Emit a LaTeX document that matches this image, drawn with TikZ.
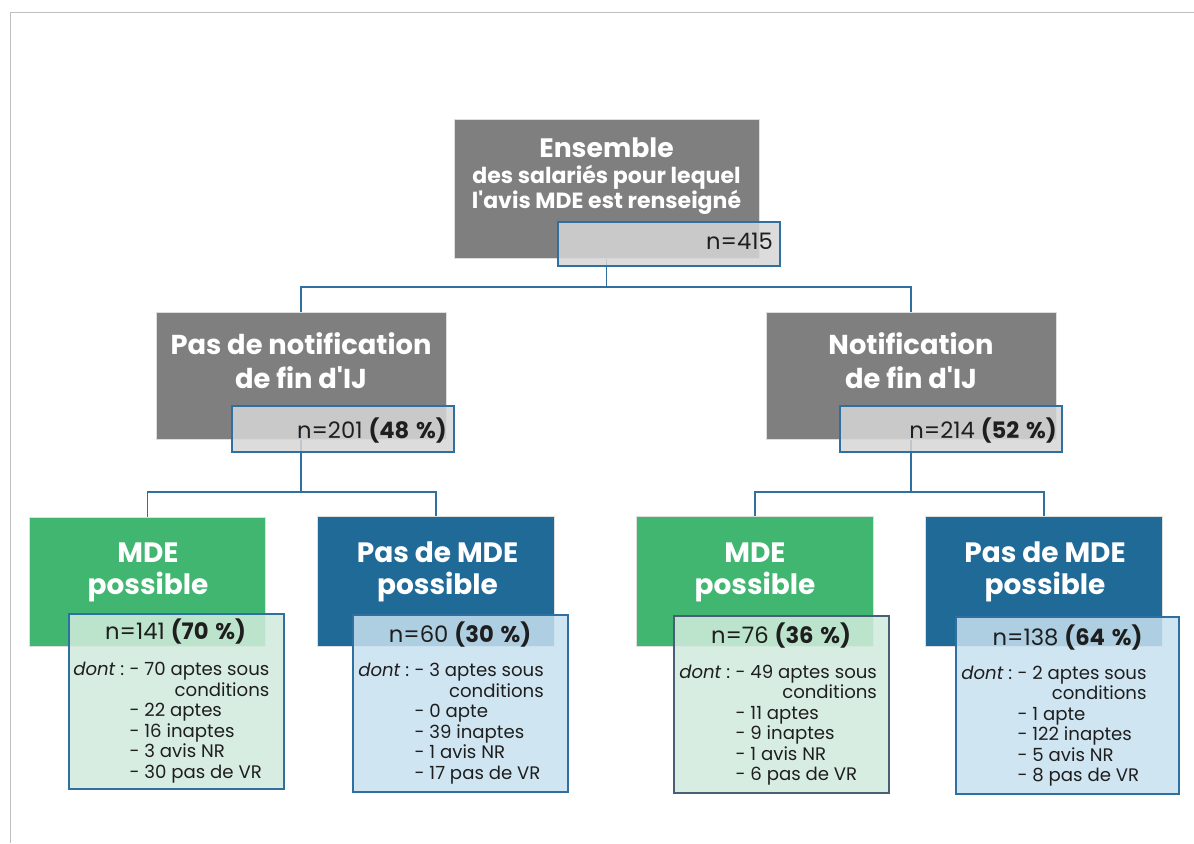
\documentclass[tikz,border=0pt]{standalone}
\usepackage{fontspec}
\setmainfont{Poppins}[Ligatures=TeXOff]
\usetikzlibrary{backgrounds}
\definecolor{framegray}{RGB}{191,191,191}
\definecolor{boxgray}{RGB}{127,127,127}
\definecolor{edgelight}{RGB}{222,222,222}
\definecolor{linkblue}{RGB}{47,112,160}
\definecolor{mdegreen}{RGB}{64,182,112}
\definecolor{mdeblue}{RGB}{32,106,152}
\definecolor{ngray}{RGB}{214,214,214}
\definecolor{dgreen}{RGB}{210,235,221}
\definecolor{dblue}{RGB}{200,225,240}
\definecolor{dslate}{RGB}{74,94,120}
\definecolor{txtdark}{RGB}{30,30,30}
\tikzset{
  cat/.style={rectangle, inner sep=0pt, draw=edgelight, line width=0.75pt},
  graybox/.style={cat, fill=boxgray, minimum width=217.5pt, minimum height=95.25pt},
  greenbox/.style={cat, fill=mdegreen, minimum width=177.5pt, minimum height=97pt},
  bluebox/.style={cat, fill=mdeblue, minimum width=177.5pt, minimum height=97pt},
  nbox/.style={rectangle, inner sep=0pt, draw=linkblue, line width=0.9pt, fill=ngray, fill opacity=0.85, minimum width=166.5pt, minimum height=34.5pt},
  detbox/.style={rectangle, inner sep=0pt, draw=linkblue, line width=0.9pt, fill opacity=0.85, minimum width=161.25pt, minimum height=132.75pt},
  detgreen/.style={detbox, fill=dgreen},
  detblue/.style={detbox, fill=dblue},
  link/.style={draw=linkblue, line width=0.9pt},
  frameline/.style={draw=framegray, line width=1.125pt},
  toptitle/.style={inner sep=0pt, text=white, font=\fontsize{16.5}{16.5}\selectfont\bfseries},
  midtitle/.style={inner sep=0pt, text=white, font=\fontsize{20.5}{25.5}\selectfont\bfseries},
  lowtitle/.style={inner sep=0pt, text=white, font=\fontsize{21}{24}\selectfont\bfseries},
  ntext/.style={inner sep=0pt, text=txtdark, font=\fontsize{17}{20}\selectfont},
  dettext/.style={inner sep=0pt, text=txtdark, font=\fontsize{13.6}{15.4}\selectfont},
}
\begin{document}
\begin{tikzpicture}[x=0.75pt,y=-0.75pt]
\useasboundingbox (0,0) rectangle (1194,843);
% level 0
\node[graybox, minimum width=228.75pt, minimum height=104.25pt] (top) at (606.5,188.5) {};
\node[nbox, minimum height=33pt] (n0) at (669,244) {};
% level 1
\node[graybox] (L) at (301,375.5) {};
\node[nbox] (nL) at (343,429) {};
\node[graybox] (R) at (911,375.5) {};
\node[nbox] (nR) at (951,429) {};
% level 2
\node[greenbox] (A) at (147.5,582) {};
\node[detgreen, minimum height=131.25pt] (dA) at (176.5,701.5) {};
\node[bluebox] (B) at (436,581.5) {};
\node[detblue] (dB) at (460.5,703.5) {};
\node[greenbox] (C) at (755,581.5) {};
\node[detgreen, draw=dslate] (dC) at (781.5,704.5) {};
\node[bluebox] (D) at (1044,581.5) {};
\node[detblue, minimum width=167.25pt] (dD) at (1067.5,705.5) {};
% titles
\node[toptitle, anchor=base] (t0) at (606.5,157) {\begin{tabular}[t]{@{}c@{}}{\fontsize{20}{24}\selectfont Ensemble}\\[1.4pt] des salariés pour lequel\\ l'avis MDE est renseigné\end{tabular}};
\node[midtitle, anchor=base] (tL) at (301,354) {\begin{tabular}[t]{@{}c@{}}Pas de notification\\ de fin d'IJ\end{tabular}};
\node[midtitle, anchor=base] (tR) at (911,354) {\begin{tabular}[t]{@{}c@{}}Notification\\ de fin d'IJ\end{tabular}};
\node[lowtitle, anchor=base] (tA) at (148,562) {\begin{tabular}[t]{@{}c@{}}MDE\\ possible\end{tabular}};
\node[lowtitle, anchor=base] (tB) at (437.5,562) {\begin{tabular}[t]{@{}c@{}}Pas de MDE\\ possible\end{tabular}};
\node[lowtitle, anchor=base] (tC) at (755,562) {\begin{tabular}[t]{@{}c@{}}MDE\\ possible\end{tabular}};
\node[lowtitle, anchor=base] (tD) at (1045,562) {\begin{tabular}[t]{@{}c@{}}Pas de MDE\\ possible\end{tabular}};
% counts
\node[ntext, anchor=base east] (c0) at (773,249) {n=415};
\node[ntext, anchor=base east] (cL) at (447,438) {n=201 \textbf{(48\hspace{0.3em}\%)}};
\node[ntext, anchor=base east] (cR) at (1057,438) {n=214 \textbf{(52\hspace{0.3em}\%)}};
\node[ntext, anchor=base] (cA) at (175.5,639) {n=141 \textbf{(70\hspace{0.3em}\%)}};
\node[ntext, anchor=base] (cB) at (460,642) {n=60 \textbf{(30\hspace{0.3em}\%)}};
\node[ntext, anchor=base] (cC) at (781,643) {n=76 \textbf{(36\hspace{0.3em}\%)}};
\node[ntext, anchor=base] (cD) at (1067.5,645) {n=138 \textbf{(64\hspace{0.3em}\%)}};
% details
\node[dettext, anchor=base west] (xA) at (73,675.5) {\begin{tabular}[t]{@{}l@{\hspace{4pt}}l@{}}\textit{dont} : & - 70 aptes sous\\ & \multicolumn{1}{@{}r@{}}{conditions}\\ & - 22 aptes\\ & - 16 inaptes\\ & - 3 avis NR\\ & - 30 pas de VR\end{tabular}};
\node[dettext, anchor=base west] (xB) at (358,676.5) {\begin{tabular}[t]{@{}l@{\hspace{4pt}}l@{}}\textit{dont} : & - 3 aptes sous\\ & \multicolumn{1}{@{}r@{}}{conditions}\\ & - 0 apte\\ & - 39 inaptes\\ & - 1 avis NR\\ & - 17 pas de VR\end{tabular}};
\node[dettext, anchor=base west] (xC) at (679,678) {\begin{tabular}[t]{@{}l@{\hspace{4pt}}l@{}}\textit{dont} : & - 49 aptes sous\\ & \multicolumn{1}{@{}r@{}}{conditions}\\ & - 11 aptes\\ & - 9 inaptes\\ & - 1 avis NR\\ & - 6 pas de VR\end{tabular}};
\node[dettext, anchor=base west] (xD) at (961,679) {\begin{tabular}[t]{@{}l@{\hspace{4pt}}l@{}}\textit{dont} : & - 2 aptes sous\\ & \multicolumn{1}{@{}r@{}}{conditions}\\ & - 1 apte\\ & - 122 inaptes\\ & - 5 avis NR\\ & - 8 pas de VR\end{tabular}};
% connectors and frame
\begin{scope}[on background layer]
\fill[white] (0,0) rectangle (1194,843);
\draw[frameline] (10.5,843) -- (10.5,12.5) -- (1194,12.5);
\coordinate (j0) at (606.5,287);
\coordinate (jL) at (301,492);
\coordinate (jR) at (911,492);
\draw[link] (top.south) -- (j0) -| (L.north);
\draw[link] (j0) -| (R.north);
\draw[link] (L.south) -- (jL) -| (A.north);
\draw[link] (jL) -| (B.north);
\draw[link] (R.south) -- (jR) -| (C.north);
\draw[link] (jR) -| (D.north);
\end{scope}
\end{tikzpicture}
\end{document}
